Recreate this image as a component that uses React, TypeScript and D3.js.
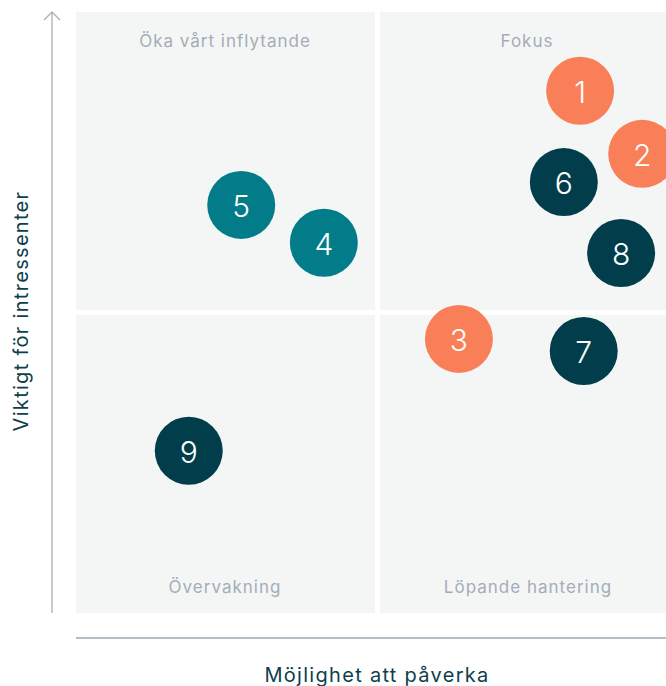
import React from 'react';
import * as d3 from 'd3';

const ids = ['1', '2', '3', '4', '5', '6', '7', '8', '9'];
const influence = [8.36, 9.39, 6.35, 4.11, 2.74, 8.09, 8.42, 9.04, 1.87];
const importance = [8.69, 7.64, 4.56, 6.16, 6.79, 7.17, 4.36, 5.99, 2.7];
const groups = ['a', 'a', 'a', 'b', 'b', 'c', 'c', 'c', 'c'];
const quadrantLabels = ['Öka vårt inflytande', 'Fokus', 'Övervakning', 'Löpande hantering'];

const W = 666;
const H = 686;
const left = 76, right = 679, top = 12, bottom = 613;

const colors: Record<string, string> = { a: '#F97F59', b: '#027C88', c: '#013D4B' };

export default function App() {
  const x = d3.scaleLinear().domain([0, 10]).range([left, right]);
  const y = d3.scaleLinear().domain([0, 10]).range([bottom, top]);
  const gap = 2.5;
  const mx = x(5), my = y(5);

  const quads = [
    { x0: left, x1: mx - gap, y0: top, y1: my - gap, lx: 225, ly: top + 35 },
    { x0: mx + gap, x1: right, y0: top, y1: my - gap, lx: 527, ly: top + 35 },
    { x0: left, x1: mx - gap, y0: my + gap, y1: bottom, lx: 225, ly: bottom - 20 },
    { x0: mx + gap, x1: right, y0: my + gap, y1: bottom, lx: 528, ly: bottom - 20 },
  ];

  const pts = ids.map((id, i) => ({ id, x: influence[i], y: importance[i], g: groups[i] }));

  return (
    <svg width={W} height={H} style={{ position: 'absolute', left: 0, top: 0 }}
      fontFamily="Inter, 'Open Sans', sans-serif">
      {quads.map((q, i) => (
        <g key={i}>
          <rect x={q.x0} y={q.y0} width={q.x1 - q.x0} height={q.y1 - q.y0} fill="#F4F6F6" />
          <text x={q.lx} y={q.ly} textAnchor="middle" fontSize={17} letterSpacing={1} fill="#A3ADB6">{quadrantLabels[i]}</text>
        </g>
      ))}

      {/* y axis with arrow */}
      <line x1={52} x2={52} y1={top} y2={bottom} stroke="#A6B0B9" strokeWidth={1.3} />
      <path d={`M${52 - 8},${top + 8} L52,${top} L${52 + 8},${top + 8}`} fill="none" stroke="#A6B0B9" strokeWidth={1.3} />
      <line x1={left} x2={W} y1={638} y2={638} stroke="#B4BDC4" strokeWidth={1.8} />

      <text transform={`translate(28,${311}) rotate(-90)`} textAnchor="middle"
        fontSize={20} letterSpacing={1.3} fill="#0D3F4C">Viktigt för intressenter</text>
      <text x={377} y={682} textAnchor="middle" fontSize={20} letterSpacing={1.3} fill="#0D3F4C">Möjlighet att påverka</text>

      {pts.map(p => (
        <g key={p.id} transform={`translate(${x(p.x)},${y(p.y)})`}>
          <circle r={34} fill={colors[p.g]} />
          <text y={1} textAnchor="middle" dominantBaseline="central" fontSize={30} fontWeight={300} fill="#fff">{p.id}</text>
        </g>
      ))}
    </svg>
  );
}
